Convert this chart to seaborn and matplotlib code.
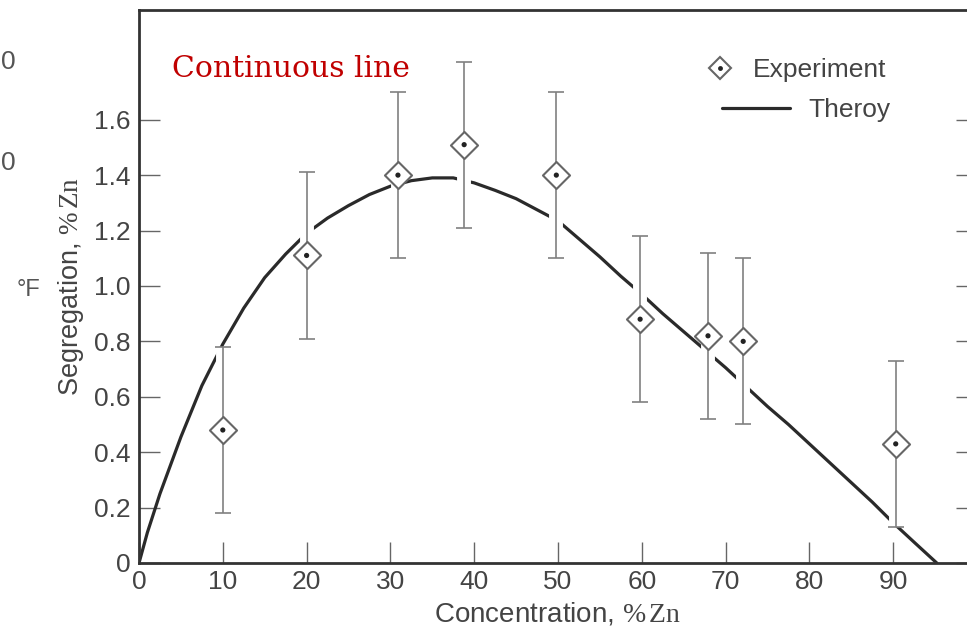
import numpy as np
import pandas as pd
import matplotlib
matplotlib.use("Agg")
import matplotlib.pyplot as plt
import matplotlib.patheffects as pe
from matplotlib.lines import Line2D
import seaborn as sns

# ---- data ----
exp_x = [10, 20, 30.9, 38.8, 49.8, 59.8, 67.9, 72.1, 90.3]
exp_y = [0.48, 1.11, 1.40, 1.51, 1.40, 0.88, 0.82, 0.80, 0.43]
exp_err = [0.30, 0.30, 0.30, 0.30, 0.30, 0.30, 0.30, 0.30, 0.30]

theory_x = [0, 1, 2.5, 5, 7.5, 10, 12.5, 15, 17.5, 20, 22.5, 25, 27.5, 30,
            32.5, 35, 37.5, 40, 42.5, 45, 47.5, 50, 52.5, 55, 57.5, 60,
            62.5, 65, 67.5, 70, 72.5, 75, 77.5, 80, 82.5, 85, 87.5, 90,
            92.5, 95.2]
theory_y = [0, 0.11, 0.25, 0.455, 0.64, 0.79, 0.92, 1.03, 1.115, 1.19,
            1.245, 1.29, 1.33, 1.36, 1.38, 1.39, 1.39, 1.372, 1.345, 1.315,
            1.275, 1.235, 1.17, 1.105, 1.035, 0.97, 0.90, 0.835, 0.77,
            0.705, 0.635, 0.565, 0.50, 0.43, 0.36, 0.29, 0.22, 0.145,
            0.075, 0.0]

x_ticks = [0, 10, 20, 30, 40, 50, 60, 70, 80, 90]
y_ticks = [0, 0.2, 0.4, 0.6, 0.8, 1.0, 1.2, 1.4, 1.6]
y_ticklabels = ["0", "0.2", "0.4", "0.6", "0.8", "1.0", "1.2", "1.4", "1.6"]

sns.set_theme(style="ticks")
plt.rcParams["font.family"] = ["Liberation Sans", "DejaVu Sans"]
plt.rcParams["mathtext.fontset"] = "custom"
plt.rcParams["mathtext.rm"] = "Liberation Serif"
plt.rcParams["mathtext.it"] = "Liberation Serif:italic"

INK = "#333333"
TXT = "#444444"

fig = plt.figure(figsize=(9.67, 6.37), dpi=100)
ax = fig.add_axes([139 / 967, 74 / 637, 838 / 967, 553 / 637])

theory = pd.DataFrame({"x": theory_x, "y": theory_y})
sns.lineplot(data=theory, x="x", y="y", ax=ax, color="#2a2a2a", linewidth=2.3,
             sort=False, zorder=2, label="_nolegend_")

# error bars with white halo (curve appears broken where crossed)
eb = ax.errorbar(exp_x, exp_y, yerr=exp_err, fmt="none", ecolor="#808080",
                 elinewidth=1.2, capsize=6, capthick=1.2, zorder=3)
halo = [pe.Stroke(linewidth=10, foreground="white"), pe.Normal()]
for c in eb.lines[2]:
    c.set_path_effects(halo)

exp = pd.DataFrame({"x": exp_x, "y": exp_y})
sns.scatterplot(data=exp, x="x", y="y", ax=ax, marker="D", s=190,
                facecolor="white", edgecolor="#666666", linewidth=1.5,
                zorder=4, legend=False)
sns.scatterplot(data=exp, x="x", y="y", ax=ax, marker="o", s=14,
                color="#222222", edgecolor="none", zorder=5, legend=False)

ax.set_xlim(0, 100)
ax.set_ylim(0, 1.996)
ax.set_xticks(x_ticks)
ax.set_yticks(y_ticks)
ax.set_yticklabels(y_ticklabels)
ax.tick_params(axis="x", direction="in", length=15, width=1, color="#666666",
               labelsize=19, labelcolor=TXT, pad=5, top=False)
ax.tick_params(axis="y", direction="in", length=15, width=1, color="#666666",
               labelsize=19, labelcolor=TXT, pad=6, left=True, right=True)
for s in ax.spines.values():
    s.set_color(INK)
    s.set_linewidth(2.0)
    s.set_visible(True)

ax.set_xlabel(r"Concentration, $\%\,\mathrm{Zn}$", fontsize=20, color=TXT,
              labelpad=5)
ax.set_ylabel(r"Segregation, $\%\,\mathrm{Zn}$", fontsize=19.5, color=TXT,
              labelpad=6)

# legend (two entries, positioned as in the reference)
h_exp = (Line2D([], [], marker="D", ms=11, mfc="white", mec="#666666",
                mew=1.5, ls="none"),
         Line2D([], [], marker="o", ms=3.5, mfc="#222222", mec="none",
                ls="none"))
h_th = Line2D([], [], color="#2a2a2a", lw=2.3)
leg1 = ax.legend([h_exp], ["Experiment"], loc="center left",
                 bbox_to_anchor=((707 - 139) / 838, (563 - 70) / 553),
                 frameon=False, fontsize=19, labelcolor=TXT,
                 handlelength=1.0, handletextpad=0.72, borderpad=0,
                 borderaxespad=0)
ax.add_artist(leg1)
ax.legend([h_th], ["Theroy"], loc="center left",
          bbox_to_anchor=((722 - 139) / 838, (563 - 110) / 553),
          frameon=False, fontsize=19, labelcolor=TXT,
          handlelength=2.58, handletextpad=0.68, borderpad=0,
          borderaxespad=0)

ax.text((172 - 139) / 838, (563 - 77) / 553, "Continuous line",
        transform=ax.transAxes, fontsize=21.5, color="#c00000",
        family="DejaVu Serif", ha="left", va="baseline")

# fragments from a neighbouring figure at the left edge
fig.text(29 / 967, 1 - 290 / 637, "°F", fontsize=17, color="#555555",
         ha="center", va="center")
for yy in (62, 163):
    fig.text(1 / 967, 1 - yy / 637, "0", fontsize=19, color="#555555",
             ha="left", va="center")

fig.savefig("out.png", dpi=100)
